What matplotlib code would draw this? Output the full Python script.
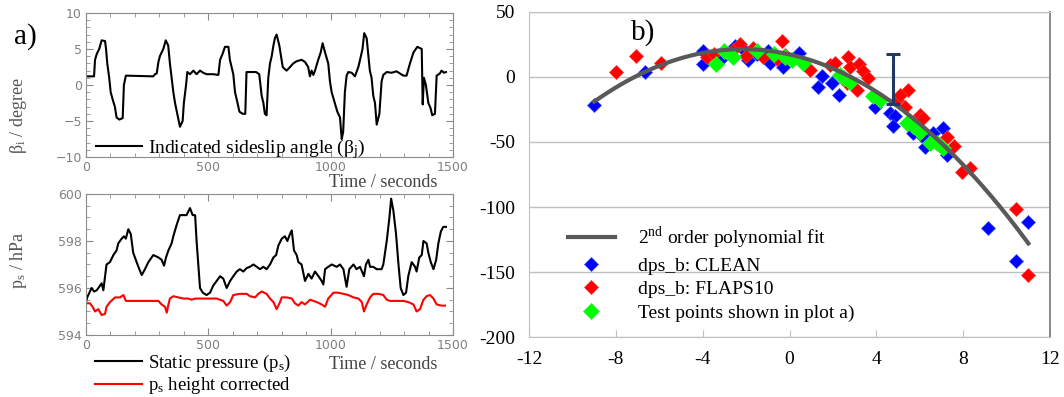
import numpy as np
import matplotlib.pyplot as plt
from matplotlib.ticker import MultipleLocator, FuncFormatter

plt.rcParams['font.family'] = ['Liberation Serif', 'DejaVu Serif']
plt.rcParams['mathtext.fontset'] = 'custom'
plt.rcParams['mathtext.rm'] = 'Liberation Serif'

# a) indicated sideslip angle time series
t_beta = [0, 33, 37, 44, 54, 64, 78, 82, 87, 95, 101, 109, 118, 125, 136, 150, 155, 163,
          275, 282, 289, 296, 302, 316, 326, 336, 343, 350, 357, 364, 373, 384, 395, 400,
          409, 414, 425, 439, 452, 466, 479, 493, 520, 541, 548, 558, 568, 582, 588, 602,
          609, 618, 627, 640, 651, 656, 684, 695, 708, 718, 725, 731, 738, 745, 752, 759,
          765, 772, 779, 790, 797, 804, 813, 820, 834, 847, 861, 881, 895, 908, 915, 922,
          929, 936, 949, 959, 967, 977, 990, 997, 1004, 1017, 1027, 1038, 1045, 1051, 1058,
          1065, 1072, 1086, 1099, 1113, 1120, 1130, 1137, 1147, 1154, 1160, 1167, 1174,
          1181, 1188, 1199, 1208, 1215, 1229, 1249, 1269, 1283, 1297, 1310, 1324, 1338,
          1354, 1372, 1376, 1381, 1389, 1399, 1408, 1415, 1426, 1433, 1446, 1453, 1463, 1471]
beta = [1.2, 1.2, 3.5, 4.3, 5.0, 6.2, 6.1, 5.0, 3.0, 1.0, -1.0, -2.0, -3.0, -4.5, -4.8, -4.6, 0.0, 1.3,
        1.2, 1.5, 1.6, 3.2, 4.0, 5.0, 6.2, 5.5, 3.0, 1.0, -1.0, -2.5, -4.0, -5.8, -5.0, -2.5,
        0.0, 1.8, 1.5, 2.0, 1.5, 2.0, 1.7, 1.5, 1.5, 1.4, 3.5, 4.3, 5.3, 5.3, 3.5, 1.5,
        -1.0, -2.3, -3.7, -4.0, -4.0, 1.8, 1.8, 1.8, 1.5, -1.5, -2.5, -4.0, -4.2, 1.0, 3.0, 4.0,
        5.3, 6.5, 7.0, 5.5, 4.0, 2.5, 2.2, 2.0, 2.5, 3.0, 3.3, 3.5, 3.2, 2.5, 1.2, 2.0,
        1.4, 2.0, 3.5, 4.5, 5.8, 4.5, 3.0, 0.5, -1.0, -2.5, -3.7, -4.5, -7.5, -6.5, -1.0,
        1.3, 1.8, 1.7, 1.2, 2.5, 3.5, 5.0, 7.2, 6.5, 4.0, 2.0, 1.0, -1.5,
        -2.5, -5.5, -4.0, 0.5, 1.4, 1.8, 1.7, 1.9, 1.6, 1.3, 1.3, 3.0, 4.5,
        5.3, 5.0, -2.7, 1.0, 0.0, -2.5, -3.2, -4.2, -4.0, 1.3, 1.6, 2.0, 1.7, 1.8]

# a) static pressure and height corrected pressure
t_ps = [0, 5, 14, 23, 33, 44, 57, 64, 71, 78, 84, 98, 112, 125, 132, 146, 155, 163, 173, 183,
        193, 207, 218, 228, 241, 255, 275, 296, 309, 319, 327, 337, 350, 357, 371, 384, 398,
        411, 425, 436, 446, 452, 459, 466, 477, 493, 507, 520, 534, 548, 561, 575, 589, 602,
        616, 629, 643, 657, 670, 684, 698, 711, 725, 738, 752, 766, 777, 786, 800, 813, 823,
        834, 841, 850, 861, 868, 881, 895, 909, 922, 936, 950, 963, 970, 977, 990, 1004, 1025,
        1038, 1052, 1065, 1076, 1093, 1106, 1120, 1136, 1144, 1154, 1161, 1174, 1188, 1208,
        1215, 1229, 1240, 1247, 1256, 1267, 1277, 1286, 1297, 1308, 1317, 1331, 1345, 1351,
        1362, 1372, 1379, 1392, 1399, 1409, 1420, 1431, 1440, 1450, 1460, 1471]
ps = [595.4, 595.6, 595.8, 596.0, 595.85, 595.9, 596.1, 596.2, 595.9, 596.5, 597.0, 597.1,
      597.4, 597.6, 597.9, 598.1, 598.2, 598.1, 598.5, 598.3, 597.5, 597.1, 596.8, 596.55,
      596.8, 597.1, 597.4, 597.3, 597.2, 596.95, 597.3, 597.6, 597.9, 598.2, 598.7, 599.1,
      599.1, 599.1, 599.4, 599.1, 599.1, 598.0, 597.0, 596.0, 595.8, 595.7, 595.8, 596.1,
      596.3, 596.5, 596.4, 596.0, 596.3, 596.5, 596.7, 596.8, 596.7, 596.85, 596.9, 597.0,
      596.9, 596.8, 596.9, 596.8, 597.0, 597.3, 597.4, 597.8, 598.1, 598.2, 598.0, 598.3,
      598.45, 597.6, 597.4, 597.1, 597.0, 596.3, 596.6, 596.4, 596.7, 596.5, 596.3, 596.15,
      596.8, 596.9, 597.0, 596.9, 597.0, 596.8, 596.05, 596.8, 597.0, 596.8, 596.9, 596.5,
      597.0, 597.2, 596.9, 596.9, 596.8, 596.8, 597.0, 598.0, 599.0, 599.8, 599.3, 598.3,
      597.0, 596.0, 595.7, 595.8, 596.5, 597.1, 596.9, 596.7, 597.3, 597.4, 598.0, 597.9,
      597.5, 597.1, 596.8, 597.2, 597.9, 598.4, 598.6, 598.6]

t_ps_corr = [0, 16, 27, 37, 50, 64, 78, 84, 98, 119, 139, 153, 163, 193, 221, 248, 275, 296,
             309, 323, 330, 337, 343, 357, 377, 398, 418, 432, 446, 466, 493, 534, 561, 575,
             589, 602, 629, 657, 670, 691, 704, 718, 738, 752, 766, 779, 793, 800, 820, 841,
             854, 868, 881, 895, 916, 943, 963, 977, 990, 1011, 1031, 1052, 1072, 1093, 1113,
             1127, 1136, 1147, 1161, 1174, 1195, 1215, 1229, 1242, 1269, 1297, 1317, 1338,
             1351, 1365, 1379, 1392, 1406, 1420, 1433, 1453, 1467]
ps_corr = [595.35, 595.35, 595.2, 595.0, 595.1, 594.85, 594.9, 595.2, 595.4, 595.6, 595.6,
           595.7, 595.45, 595.45, 595.45, 595.45, 595.45, 595.45, 595.3, 595.2, 594.95, 595.3,
           595.55, 595.65, 595.6, 595.55, 595.55, 595.5, 595.55, 595.55, 595.55, 595.55,
           595.45, 595.25, 595.4, 595.7, 595.75, 595.75, 595.65, 595.6, 595.75, 595.85,
           595.75, 595.55, 595.4, 595.1, 595.4, 595.6, 595.6, 595.55, 595.35, 595.25, 595.4,
           595.3, 595.5, 595.4, 595.3, 595.2, 595.55, 595.8, 595.8, 595.75, 595.7, 595.6,
           595.55, 595.4, 595.0, 595.3, 595.6, 595.75, 595.75, 595.7, 595.5, 595.45, 595.45,
           595.45, 595.4, 595.3, 595.0, 595.1, 595.5, 595.65, 595.7, 595.55, 595.3, 595.25,
           595.25]

# b) dps_b vs beta
clean_x = [-9.0, -6.66, -4.0, -4.0, -3.2, -2.5, -2.2, -1.9, -1.0, -0.9, -1.5, -0.31, 0.44,
           1.3, 1.48, 2.28, 1.94, 3.94, 4.63, 4.85, 4.77, 5.7, 6.15, 6.24, 7.07, 7.25, 6.6,
           9.15, 10.43, 10.97]
clean_y = [-21.5, 4.1, 20, 10, 13, 24, 22, 13, 20, 11, 18, 8, 18.5,
           -7.7, 0.8, -14, -4.6, -23, -27.7, -30, -38, -43, -46, -53.8, -39, -60, -43,
           -116, -141.5, -111.5]
flaps_x = [-8.0, -7.09, -5.92, -3.8, -3.5, -2.6, -2.3, -2.0, -1.7, -1.2, -0.35, -0.6, -0.2,
           0.94, 1.86, 2.1, 2.7, 2.79, 3.2, 3.4, 3.6, 3.1, 2.63, 4.94, 5.45, 5.32, 6.0, 6.15,
           5.1, 7.24, 7.58, 7.95, 8.3, 10.43, 10.97]
flaps_y = [3.6, 16.2, 10.5, 15, 18, 21, 25, 16, 22, 15, 28, 14, 17,
           5.4, 9.2, 11, 15, 7.9, 10, 4.5, -0.8, -10, -4.6, -17.7, -10, -23, -29, -31.5,
           -14, -46, -53, -73, -70, -101.5, -152]
test_x = [-3.4, -3.0, -2.6, -1.5, -0.7, -0.2, 0.1, 0.62, 2.33, 2.5, 2.8, 3.85, 4.17, 5.4,
          5.7, 6.47, 6.8, 7.07, 6.0]
test_y = [10, 20, 15, 20, 18, 15, 13, 10.8, 1.5, -1, -3.5, -15, -17.7, -35.5,
          -38, -51, -51, -55, -42]

fit_coef = [-0.863, -3.724, 17.39]
fit_range = [-9, 11]
err_x, err_lo, err_hi = 4.77, -21, 18

fig = plt.figure(figsize=(10.64, 3.97), dpi=100)

frame_c = '#8c8c8c'


def style_a(ax, ymaj, ymin):
    ax.set_xlim(0, 1500)
    ax.xaxis.set_major_locator(MultipleLocator(500))
    ax.xaxis.set_minor_locator(MultipleLocator(100))
    ax.yaxis.set_major_locator(MultipleLocator(ymaj))
    ax.yaxis.set_minor_locator(MultipleLocator(ymin))
    ax.tick_params(which='both', direction='in', top=True, right=True, color=frame_c,
                   labelcolor='#808080', labelsize=9, labelfontfamily='DejaVu Sans', pad=3)
    ax.tick_params(which='major', length=5)
    ax.tick_params(which='minor', length=3)
    for s in ax.spines.values():
        s.set_color(frame_c)


# top panel a
ax1 = fig.add_axes([0.0808, 0.6045, 0.345, 0.3628])
ax1.plot(t_beta, beta, color='black', lw=1.5, label=r'Indicated sideslip angle ($\mathregular{\beta_j}$)')
ax1.set_ylim(-10, 10)
style_a(ax1, 5, 1)
ax1.set_ylabel(r'$\mathregular{\beta_i}$ / degree', fontsize=13, color='#555555')
ax1.yaxis.set_label_coords(-0.155, 0.285)
ax1.text(0.81, -0.175, 'Time / seconds', transform=ax1.transAxes, fontsize=13,
         color='#444444', ha='center', va='center')
ax1.legend(loc='lower left', bbox_to_anchor=(0.0, -0.095), frameon=False, fontsize=14,
           handlelength=2.4, handletextpad=0.3, borderaxespad=0.1)
fig.text(0.0235, 0.907, 'a)', fontsize=21, ha='center', va='center')

# bottom panel a
ax2 = fig.add_axes([0.0808, 0.1562, 0.345, 0.3552])
ax2.plot(t_ps, ps, color='black', lw=1.5, label=r'Static pressure ($\mathregular{p_s}$)')
ax2.plot(t_ps_corr, ps_corr, color='#ff0000', lw=1.5, label=r'$\mathregular{p_s}$ height corrected')
ax2.set_ylim(594, 600)
style_a(ax2, 2, 0.5)
ax2.set_ylabel(r'$\mathregular{p_s}$ / hPa', fontsize=13, color='#555555')
ax2.yaxis.set_label_coords(-0.155, 0.53)
ax2.text(0.81, -0.21, 'Time / seconds', transform=ax2.transAxes, fontsize=13,
         color='#444444', ha='center', va='center')
ax2.legend(loc='upper left', bbox_to_anchor=(0.0, -0.06), frameon=False, fontsize=13.5,
           handlelength=2.5, handletextpad=0.3, labelspacing=0.08, borderaxespad=0.1)

# panel b
axb = fig.add_axes([0.4972, 0.1511, 0.4897, 0.8187])
axb.plot(clean_x, clean_y, 'D', color='#0000ff', ms=6.8, mec='#3355ff', mew=0.5,
         label='dps_b: CLEAN', zorder=3)
axb.plot(flaps_x, flaps_y, 'D', color='#ff0000', ms=7.2, mec='#ff3333', mew=0.5,
         label='dps_b: FLAPS10', zorder=3)
axb.plot(test_x, test_y, 'D', color='#00ff00', ms=8.5, mec='#33ee33', mew=0.5,
         label='Test points shown in plot a)', zorder=3)
xf = np.linspace(fit_range[0], fit_range[1], 200)
axb.plot(xf, np.polyval(fit_coef, xf), color='#595959', lw=3,
         label=r'2$^{\mathregular{nd}}$ order polynomial fit', zorder=4)
axb.errorbar([err_x], [(err_lo + err_hi) / 2], yerr=[(err_hi - err_lo) / 2], fmt='none',
             ecolor='#1f3864', elinewidth=2.2, capsize=5, capthick=2.2, zorder=5)

axb.set_xlim(-12, 12)
axb.set_ylim(-200, 50)
axb.set_xticks(range(-12, 13, 4))
axb.set_yticks(range(-200, 51, 50))
plain = FuncFormatter(lambda v, p: f'{v:.0f}')
axb.xaxis.set_major_formatter(plain)
axb.yaxis.set_major_formatter(plain)
axb.grid(axis='y', color='#c0c0c0', lw=1)
axb.set_axisbelow(True)
for side in ['left', 'bottom', 'top']:
    axb.spines[side].set_color('#c0c0c0')
axb.spines['right'].set_color('#808080')
axb.spines['right'].set_linewidth(1.3)
axb.tick_params(axis='x', direction='in', length=5, color='#c0c0c0', labelsize=14, pad=10)
axb.tick_params(axis='y', length=0, labelsize=14, pad=10)
axb.text(-7.3, 34, 'b)', fontsize=21, ha='left', va='center')

h, l = axb.get_legend_handles_labels()
order = [3, 0, 1, 2]
axb.legend([h[i] for i in order], [l[i] for i in order], loc='upper left',
           bbox_to_anchor=(0.06, 0.37), frameon=False, fontsize=14, handlelength=2.4,
           handletextpad=1.2, labelspacing=0.3, borderaxespad=0)

fig.savefig('out.png', dpi=100)
